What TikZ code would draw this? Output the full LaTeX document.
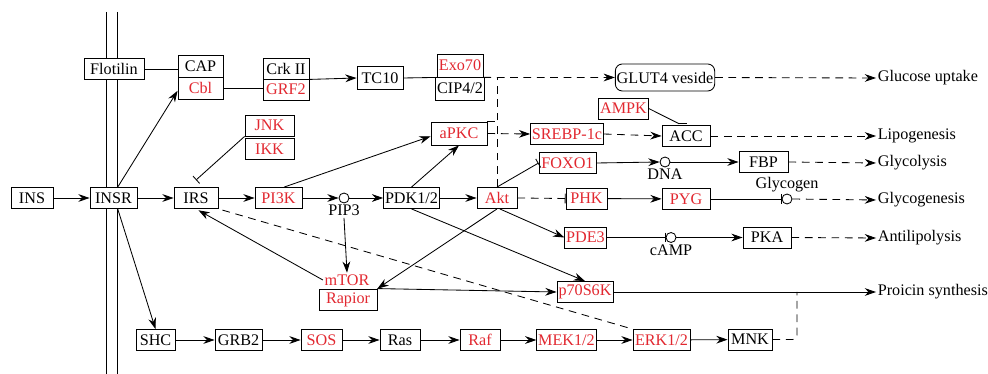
\documentclass[tikz,border=0pt]{standalone}
\usepackage{fontspec}
\setmainfont{Liberation Serif}
\usetikzlibrary{arrows.meta}
\definecolor{genered}{RGB}{226,40,48}
\tikzset{
    box/.style={draw,fill=white,minimum height=0.525cm,inner sep=1pt,font=\fontsize{11.5}{13}\selectfont},
    gene/.style={box,text=genered},
    mol/.style={circle,draw,fill=white,inner sep=0pt,minimum size=0.25cm},
    lbl/.style={inner sep=1pt,font=\fontsize{11.5}{13}\selectfont},
    act/.style={-{Stealth[length=8pt,width=5.5pt]}},
    inh/.style={-{Bar[width=7pt]}},
    ind/.style={dash pattern=on 5.5pt off 4pt},
}
\begin{document}
\begin{tikzpicture}[x=0.25mm,y=-0.25mm,line width=0.6pt]
        \useasboundingbox (0,0) rectangle (988,374);
        %% Membrane
        \draw (106,12) -- (106,374);
        \draw (117,12) -- (117,374);
        %% top row: CAP/Cbl branch
        \node[box,minimum width=1.5cm] (Flot) at (114,69) {Flotilin};
        \node[box,minimum width=1.125cm,minimum height=0.55cm] (CAP) at (200.5,66) {CAP};
        \node[gene,minimum width=1.125cm,minimum height=0.55cm] (Cbl) at (200.5,88) {Cbl};
        \node[box,minimum width=1.15cm] (CrkII) at (286,68.5) {Crk II};
        \node[gene,minimum width=1.15cm] (GRF2) at (286,89.5) {GRF2};
        \node[box,minimum width=1.15cm,minimum height=0.575cm] (TC10) at (380,78) {TC10};
        \node[gene,minimum width=1.15cm,minimum height=0.575cm] (Exo70) at (460,65.5) {Exo70};
        \node[box,minimum width=1.15cm,minimum height=0.575cm] (CIP) at (460,88.5) {CIP4/2};
        \node[box,rounded corners=5pt,minimum width=2.4cm,minimum height=0.675cm] (GLUT4) at (665,77.5) {GLUT4 veside};
        %% lipogenesis / glycolysis
        \node[gene,minimum width=1.175cm] (AMPK) at (623.5,108.5) {AMPK};
        \node[box,minimum width=1.2cm] (ACC) at (686,136) {ACC};
        \node[gene,minimum width=1.4cm,minimum height=0.575cm] (aPKC) at (459,133.5) {aPKC};
        \node[gene,minimum width=1.8cm] (SREBP) at (567,134) {SREBP-1c};
        \node[gene,minimum width=1.425cm] (FOXO1) at (567.5,163) {FOXO1};
        \node[mol] (dna) at (665,162) {};
        \node[lbl,anchor=north] (dnalbl) at (dna.south) {DNA};
        \node[box,minimum width=1.225cm] (FBP) at (763.5,162) {FBP};
        \node[gene,minimum width=1.225cm] (JNK) at (269.5,125.5) {JNK};
        \node[gene,minimum width=1.225cm] (IKK) at (269.5,149) {IKK};
        %% main row
        \node[box,minimum width=1.05cm] (INS) at (32,198) {INS};
        \node[box,minimum width=1.175cm] (INSR) at (113.5,198) {INSR};
        \node[box,minimum width=1.1cm] (IRS) at (196,198) {IRS};
        \node[gene,minimum width=1.175cm] (PI3K) at (278.5,198) {PI3K};
        \node[mol] (pip3) at (344,198) {};
        \node[lbl,anchor=north] (pip3lbl) at (pip3.south) {PIP3};
        \node[box,minimum width=1.325cm] (PDK) at (411.5,198) {PDK1/2};
        \node[gene,minimum width=1.0cm] (Akt) at (497,198) {Akt};
        \node[gene,minimum width=1.025cm] (PHK) at (586.5,198.5) {PHK};
        \node[gene,minimum width=1.2cm] (PYG) at (686,199) {PYG};
        \node[mol] (glycogen) at (787,199) {};
        \node[lbl,anchor=south] (glylbl) at (glycogen.north) {Glycogen};
        \node[gene,minimum width=1.025cm] (PDE3) at (585.5,237.5) {PDE3};
        \node[mol] (camp) at (671,237.5) {};
        \node[lbl,anchor=north] (camplbl) at (camp.south) {cAMP};
        \node[box,minimum width=1.2cm] (PKA) at (767,237.5) {PKA};
        %% protein synthesis
        \node[lbl,text=genered] (mTOR) at (347,280) {mTOR};
        \node[gene,minimum width=1.45cm] (Rapior) at (348,299.5) {Rapior};
        \node[gene,minimum width=1.4cm] (p70) at (585,292) {p70S6K};
        %% MAPK row
        \node[box,minimum width=0.975cm] (SHC) at (155.5,340) {SHC};
        \node[box,minimum width=1.175cm] (GRB2) at (238.5,340) {GRB2};
        \node[gene,minimum width=1.025cm] (SOS) at (321.5,340) {SOS};
        \node[box,minimum width=1.0cm] (Ras) at (400,340) {Ras};
        \node[gene,minimum width=1.0cm] (Raf) at (480,340) {Raf};
        \node[gene,minimum width=1.425cm] (MEK) at (566.5,340) {MEK1/2};
        \node[gene,minimum width=1.425cm] (ERK) at (661.5,340) {ERK1/2};
        \node[box,minimum width=1.1cm] (MNK) at (750,339.5) {MNK};
        %% outputs
        \node[lbl,anchor=west] (uptake) at (876,78) {Glucose uptake};
        \node[lbl,anchor=west] (lipo) at (876,136) {Lipogenesis};
        \node[lbl,anchor=west] (glyco) at (876,163) {Glycolysis};
        \node[lbl,anchor=west] (glygen) at (876,200) {Glycogenesis};
        \node[lbl,anchor=west] (antilipo) at (876,238) {Antilipolysis};
        \node[lbl,anchor=west] (protsyn) at (876,292) {Proicin synthesis};
        \coordinate (jglut) at (Akt.north |- GLUT4.west);
        \coordinate (jprot) at (797,292);
        %% top edges
        \draw (Flot.east) -- (Flot.east -| CAP.west);
        \draw (Cbl.east) -- (Cbl.east -| GRF2.west);
        \draw[act] (CrkII.south east) -- (TC10.west);
        \draw (TC10.east) -- (Exo70.south west);
        \draw[act,ind] (Exo70.south east) -- (GLUT4.west);
        \draw[act,ind] (GLUT4.east) -- (uptake.west);
        \draw[ind] (Akt.north) -- (jglut);
        \draw[ind] (aPKC.north east) -- (aPKC.north east -| jglut);
        \draw[act] ([xshift=3pt]INSR.north) -- ([yshift=-2pt]Cbl.west);
        \draw[inh] (JNK.south west) -- ([yshift=5pt]IRS.north);
        %% main row edges
        \draw[act] (INS) -- (INSR);
        \draw[act] (INSR) -- (IRS);
        \draw[act] (IRS) -- (PI3K);
        \draw[act] (PI3K) -- (pip3);
        \draw[act] (pip3) -- (PDK);
        \draw[act] (PDK) -- (Akt);
        \draw[inh,ind] (Akt.east) -- (PHK.west);
        \draw[act] (PHK) -- (PYG);
        \draw[inh] (PYG.east) -- (glycogen.west);
        \draw[act,ind] (glycogen.east) -- (glygen.west);
        \draw[act] ([xshift=4pt]PI3K.north) -- ([yshift=-2pt]aPKC.west);
        \draw[act] (PDK.north) -- (aPKC.south);
        \draw[act,ind] (aPKC.east) -- (SREBP.west);
        \draw[act,ind] (SREBP.east) -- (ACC.west);
        \draw[act,ind] (ACC.east) -- (lipo.west);
        \draw (AMPK.east) -- ([xshift=-5pt,yshift=1pt]ACC.north);
        \draw ([xshift=-5pt,yshift=1pt]ACC.north) -- ([xshift=1pt,yshift=1pt]ACC.north);
        \draw[inh] (Akt.north) -- (FOXO1.west);
        \draw[act] (FOXO1.east) -- (dna.west);
        \draw[act] (dna.east) -- (FBP.west);
        \draw[act,ind] (FBP.east) -- (glyco.west);
        \draw[act] ([xshift=2pt]Akt.south) -- (PDE3.west);
        \draw[inh] (PDE3.east) -- (camp.west);
        \draw[act] (camp.east) -- (PKA.west);
        \draw[act,ind] (PKA.east) -- (antilipo.west);
        %% mTOR / p70S6K edges
        \draw[act] (PDK.south) -- (p70.north);
        \draw[act] (Akt.south) -- (Rapior.north east);
        \draw[act] (pip3lbl.south) -- (mTOR.north);
        \draw[act,shorten >=2pt] (mTOR.west) -- (IRS.south);
        \draw[ind,shorten <=3pt] (IRS.south east) -- (ERK.north west);
        \draw[act] (Rapior.north east) -- (p70.west);
        \draw[act] (p70.east) -- (protsyn.west);
        \draw[ind,rounded corners=3pt] (MNK.east) -| (jprot);
        %% MAPK edges
        \draw[act] ([xshift=3pt]INSR.south) -- (SHC.north);
        \draw[act] (SHC) -- (GRB2);
        \draw[act] (GRB2) -- (SOS);
        \draw[act] (SOS) -- (Ras);
        \draw[act] (Ras) -- (Raf);
        \draw[act] (Raf) -- (MEK);
        \draw[act] (MEK) -- (ERK);
        \draw[act] (ERK) -- (MNK);
    \end{tikzpicture}
\end{document}
